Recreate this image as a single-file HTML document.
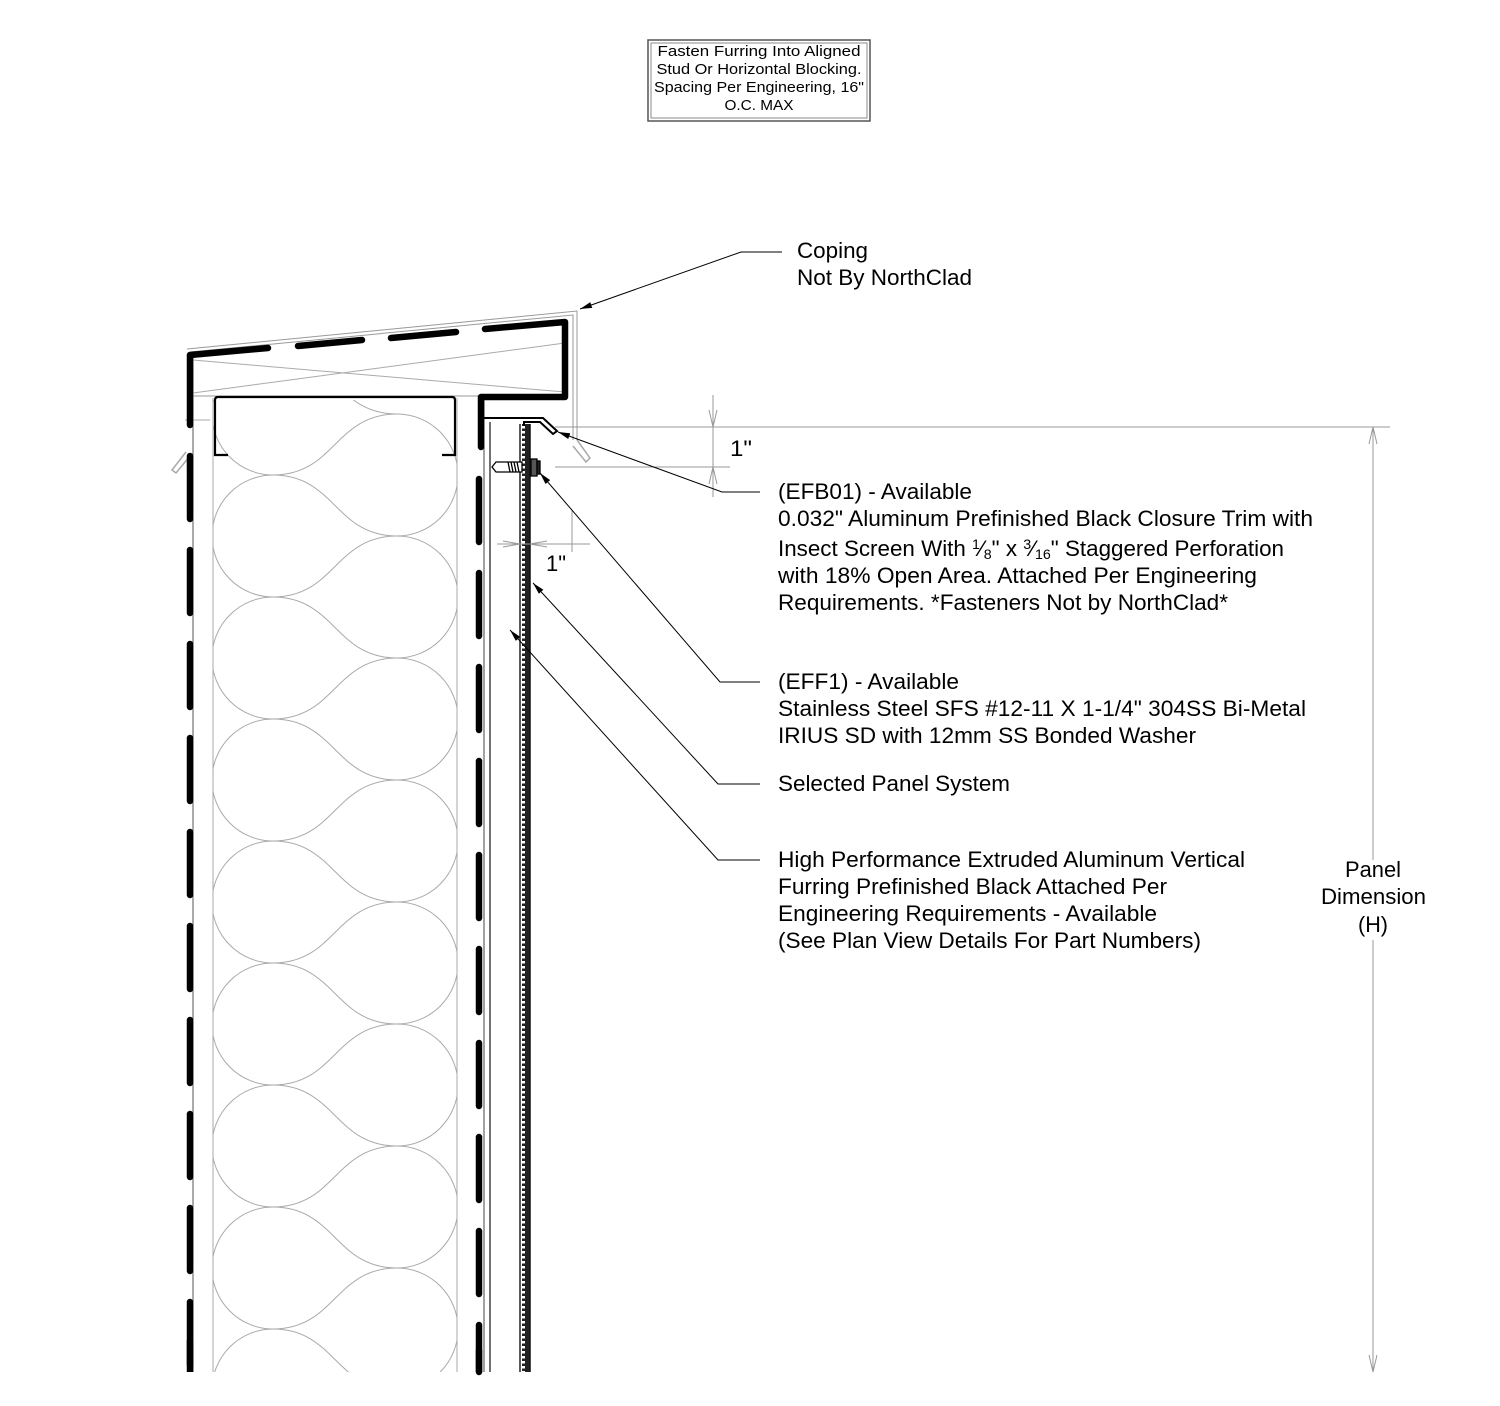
<!DOCTYPE html>
<html><head><meta charset="utf-8"><style>
html,body{margin:0;padding:0;background:#fff;width:1500px;height:1406px;overflow:hidden}
svg{display:block}
text{font-family:"Liberation Sans",Arial,Helvetica,sans-serif;fill:#000}
</style></head><body>
<svg width="1500" height="1406" viewBox="0 0 1500 1406" xmlns="http://www.w3.org/2000/svg">
<defs>
<clipPath id="ins"><rect x="213" y="400" width="244" height="972"/></clipPath>
<marker id="ar" viewBox="0 0 12 6" refX="12" refY="3" markerWidth="12" markerHeight="6" orient="auto" markerUnits="userSpaceOnUse"><path d="M0,0 L12,3 L0,6 Z" fill="#000"/></marker>
<pattern id="perf" width="8" height="5" patternUnits="userSpaceOnUse"><rect width="8" height="5" fill="#222"/><rect x="2" y="1" width="3" height="2.5" fill="#fff"/></pattern>
</defs>

<rect x="648" y="40" width="222" height="81" fill="none" stroke="#555" stroke-width="1.5"/>
<rect x="651" y="43" width="216" height="75" fill="none" stroke="#888" stroke-width="1"/>
<g font-size="14.5" text-anchor="middle">
<text x="759" y="56" textLength="203" lengthAdjust="spacingAndGlyphs">Fasten Furring Into Aligned</text>
<text x="759" y="74" textLength="205" lengthAdjust="spacingAndGlyphs">Stud Or Horizontal Blocking.</text>
<text x="759" y="92" textLength="210" lengthAdjust="spacingAndGlyphs">Spacing Per Engineering, 16"</text>
<text x="759" y="110" textLength="69" lengthAdjust="spacingAndGlyphs">O.C. MAX</text>
</g>

<g clip-path="url(#ins)" fill="none" stroke="#aaa" stroke-width="1">
<path d="M273,353 C335,353 335,414 397,414 C335,414 335,475 273,475 C335,475 335,536 397,536 C335,536 335,597 273,597 C335,597 335,658 397,658 C335,658 335,719 273,719 C335,719 335,780 397,780 C335,780 335,841 273,841 C335,841 335,902 397,902 C335,902 335,963 273,963 C335,963 335,1024 397,1024 C335,1024 335,1085 273,1085 C335,1085 335,1146 397,1146 C335,1146 335,1207 273,1207 C335,1207 335,1268 397,1268 C335,1268 335,1329 273,1329 C335,1329 335,1390 397,1390 C335,1390 335,1451 273,1451"/>
<path d="M273,353 A61,61 0 0 0 273,475 M273,475 A61,61 0 0 0 273,597 M273,597 A61,61 0 0 0 273,719 M273,719 A61,61 0 0 0 273,841 M273,841 A61,61 0 0 0 273,963 M273,963 A61,61 0 0 0 273,1085 M273,1085 A61,61 0 0 0 273,1207 M273,1207 A61,61 0 0 0 273,1329 M273,1329 A61,61 0 0 0 273,1451"/>
<path d="M397,414 A61,61 0 0 1 397,536 M397,536 A61,61 0 0 1 397,658 M397,658 A61,61 0 0 1 397,780 M397,780 A61,61 0 0 1 397,902 M397,902 A61,61 0 0 1 397,1024 M397,1024 A61,61 0 0 1 397,1146 M397,1146 A61,61 0 0 1 397,1268 M397,1268 A61,61 0 0 1 397,1390 M397,1390 A61,61 0 0 1 397,1512"/>
</g>

<g fill="none" stroke-width="1">
<line x1="193" y1="355" x2="193" y2="1372" stroke="#555"/>
<line x1="213" y1="398" x2="213" y2="1372" stroke="#aaa"/>
<line x1="457" y1="398" x2="457" y2="1372" stroke="#aaa"/>
<line x1="484" y1="397" x2="484" y2="1372" stroke="#444"/>
<line x1="490" y1="422" x2="490" y2="1372" stroke="#444" stroke-width="1.5"/>
<line x1="193" y1="396" x2="480" y2="396" stroke="#999"/>
<line x1="193" y1="393" x2="565" y2="343" stroke="#aaa"/>
<line x1="193" y1="360" x2="565" y2="392" stroke="#aaa"/>
<line x1="185" y1="420" x2="210" y2="420" stroke="#aaa"/>
<path d="M187,349 L577,311 L577,440" stroke="#999"/>
<path d="M190,352 L573,315 L573,440" stroke="#999"/>
<path d="M577,440 L590,458 L586,462 L573,446" stroke="#aaa" stroke-width="1.5"/>
<path d="M186,452 L172,470 L176,473 L190,456" stroke="#aaa" stroke-width="1.5"/>
</g>

<path d="M228,455 L215,455 L215,400 Q215,397 218,397 L452,397 Q455,397 455,400 L455,455 L442,455" fill="none" stroke="#000" stroke-width="2.2"/>

<g fill="none" stroke="#000" stroke-width="6.5" stroke-linecap="round" stroke-linejoin="round">
<path d="M190,425 L190,355 L268,348"/>
<line x1="298" y1="346" x2="362" y2="340"/>
<line x1="391" y1="338" x2="456" y2="332"/>
<path d="M485,329 L565,322 L565,397 L481,397 L481,447"/>
</g>
<line x1="190" y1="456" x2="190" y2="1372" stroke="#000" stroke-width="6.5" stroke-linecap="round" stroke-dasharray="63 31"/>
<line x1="190" y1="1340" x2="190" y2="1372" stroke="#000" stroke-width="6.5"/>
<line x1="479" y1="479" x2="479" y2="1372" stroke="#000" stroke-width="6.5" stroke-linecap="round" stroke-dasharray="63 31"/>
<line x1="479" y1="1350" x2="479" y2="1372" stroke="#000" stroke-width="6.5"/>

<line x1="520" y1="424" x2="520" y2="1372" stroke="#222" stroke-width="1.5"/>
<rect x="522" y="424" width="8" height="948" fill="url(#perf)"/>
<line x1="530" y1="424" x2="530" y2="1372" stroke="#111" stroke-width="1.5"/>
<path d="M484,418 L543,418 L557,431 L553,434 L540,422 L524,422 L524,426" fill="none" stroke="#000" stroke-width="2"/>
<g stroke="#000" stroke-width="1.3" fill="#fff">
<path d="M492,467 L496,462 L522,462 L522,472 L496,472 Z"/>
<path d="M508,462 L510,472 M511,462 L513,472 M514,462 L516,472 M517,462 L519,472" fill="none"/>
<rect x="531" y="459" width="6" height="17" fill="#555"/>
<rect x="537" y="461" width="3" height="13" fill="#222"/>
</g>

<g stroke="#999" stroke-width="1" fill="none">
<line x1="555" y1="427" x2="1390" y2="427"/>
<line x1="555" y1="467" x2="730" y2="467"/>
<line x1="713" y1="395" x2="713" y2="497"/>
<path d="M709,410 L713,427 L717,410 M709,484 L713,467 L717,484"/>
<line x1="1373" y1="427" x2="1373" y2="860"/>
<line x1="1373" y1="940" x2="1373" y2="1372"/>
<path d="M1369,444 L1373,427 L1377,444 M1369,1355 L1373,1372 L1377,1355"/>
<line x1="497" y1="544" x2="590" y2="544"/>
<line x1="572" y1="510" x2="572" y2="552"/>
<path d="M503,541 L520,544 L503,547 M547,541 L530,544 M547,547 L530,544"/>
</g>
<g font-size="22">
<text x="730" y="456" textLength="22" lengthAdjust="spacingAndGlyphs">1"</text>
<text x="546" y="571" textLength="20" lengthAdjust="spacingAndGlyphs">1"</text>
</g>

<g stroke="#000" stroke-width="1" fill="none" marker-end="url(#ar)">
<path d="M782,252 L741,252 L580,309"/>
<path d="M760,492 L722,492 L558,432"/>
<path d="M760,682 L720,682 L540,473"/>
<path d="M760,784 L718,784 L533,583"/>
<path d="M760,860 L718,860 L510,630"/>
</g>

<g font-size="22">
<text x="797" y="258" textLength="71" lengthAdjust="spacingAndGlyphs">Coping</text>
<text x="797" y="285" textLength="175" lengthAdjust="spacingAndGlyphs">Not By NorthClad</text>
<text x="778" y="499" textLength="194" lengthAdjust="spacingAndGlyphs">(EFB01) - Available</text>
<text x="778" y="526" textLength="535" lengthAdjust="spacingAndGlyphs">0.032" Aluminum Prefinished Black Closure Trim with</text>
<text x="778" y="556" textLength="506" lengthAdjust="spacingAndGlyphs">Insect Screen With <tspan font-size="14" dy="-7">1</tspan><tspan dy="7">⁄</tspan><tspan font-size="14" dy="3">8</tspan><tspan dy="-3">" x </tspan><tspan font-size="14" dy="-7">3</tspan><tspan dy="7">⁄</tspan><tspan font-size="14" dy="3">16</tspan><tspan dy="-3">" Staggered Perforation</tspan></text>
<text x="778" y="583" textLength="479" lengthAdjust="spacingAndGlyphs">with 18% Open Area. Attached Per Engineering</text>
<text x="778" y="610" textLength="450" lengthAdjust="spacingAndGlyphs">Requirements. *Fasteners Not by NorthClad*</text>
<text x="778" y="689" textLength="181" lengthAdjust="spacingAndGlyphs">(EFF1) - Available</text>
<text x="778" y="716" textLength="528" lengthAdjust="spacingAndGlyphs">Stainless Steel SFS #12-11 X 1-1/4" 304SS Bi-Metal</text>
<text x="778" y="743" textLength="418" lengthAdjust="spacingAndGlyphs">IRIUS SD with 12mm SS Bonded Washer</text>
<text x="778" y="791" textLength="232" lengthAdjust="spacingAndGlyphs">Selected Panel System</text>
<text x="778" y="867" textLength="467" lengthAdjust="spacingAndGlyphs">High Performance Extruded Aluminum Vertical</text>
<text x="778" y="894" textLength="389" lengthAdjust="spacingAndGlyphs">Furring Prefinished Black Attached Per</text>
<text x="778" y="921" textLength="379" lengthAdjust="spacingAndGlyphs">Engineering Requirements - Available</text>
<text x="778" y="948" textLength="423" lengthAdjust="spacingAndGlyphs">(See Plan View Details For Part Numbers)</text>
</g>
<g font-size="22">
<text x="1345" y="877" textLength="56" lengthAdjust="spacingAndGlyphs">Panel</text>
<text x="1321" y="904" textLength="105" lengthAdjust="spacingAndGlyphs">Dimension</text>
<text x="1358" y="932" textLength="30" lengthAdjust="spacingAndGlyphs">(H)</text>
</g>
</svg>
</body></html>
